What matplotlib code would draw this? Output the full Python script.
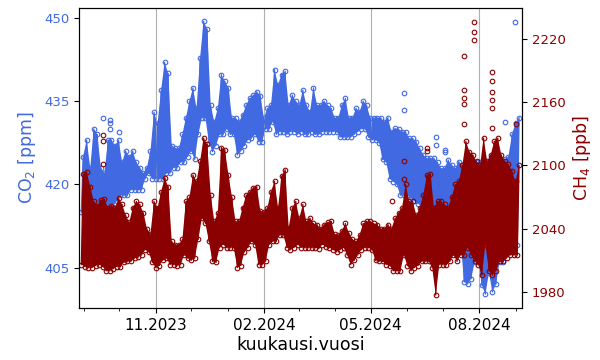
import matplotlib
matplotlib.use('Agg')
import matplotlib.pyplot as plt
import matplotlib.dates as mdates
import numpy as np
import pandas as pd

# ---- data (3-day steps from 2023-08-30; low / high of the daily spread) ----
start_date = '2023-08-30'
step_days = 3

co2_lo = [415, 414, 416, 417, 415, 416, 417, 415, 415, 416, 417, 418, 418, 418, 419, 419, 419, 419, 421, 422, 421,
          421, 421, 421, 422, 422, 423, 423, 424, 424, 425, 426, 424.5, 429, 432, 432, 427.5, 425.9, 427, 429, 429, 430, 429,
          429, 425.3, 426, 427, 428, 428.3, 429, 427.7, 427.7, 430, 430, 431.3, 429, 429.5, 429.5, 429, 429.5, 429.5, 429, 429.5, 429,
          429, 429.5, 429, 429, 429.5, 429.5, 429.5, 429.5, 429.5, 428.5, 428.5, 428.5, 428.5, 429, 429.5, 430, 430, 428.5, 428, 428, 427.5, 424.5,
          424, 421, 420.5, 420, 418, 418, 418, 417.5, 417, 416.5, 416, 414.5, 413.5, 413.5, 413, 412.5, 412, 412, 412, 411, 410,
          409.7, 402.4, 402, 403, 406, 406, 401.8, 400.2, 404, 400.6, 402, 406, 406, 408, 408, 408.5, 409]
co2_hi = [425, 428, 423, 430, 429, 423, 422, 428, 428, 427, 428, 424, 426, 425, 426, 424, 423, 422, 423, 426, 433,
          431, 437, 442, 440, 427, 426.5, 426.5, 429, 432, 435, 437.4, 433.7, 442.8, 449.4, 448, 434.3, 431.3, 433.7, 439.8, 438.6, 437.4, 432,
          432, 431.3, 432.5, 434.3, 435.5, 436.1, 436.7, 436, 432, 433.7, 434.3, 440.7, 438, 439.8, 440.4, 434.3, 436.1, 435, 434.3, 437, 434.3,
          433.1, 437.4, 434.3, 434.3, 435, 434.3, 433.7, 432, 432, 434.3, 435.5, 432, 432, 433.7, 433.1, 435, 434.3, 432, 432, 432, 432, 431.3,
          432, 429.5, 430.1, 430, 429.5, 429.5, 428.3, 428.3, 427.7, 426.5, 425.3, 424.7, 424.7, 424.7, 424, 422.9, 422.9, 424.4, 423.5, 422.9, 424.1,
          423.5, 424, 425, 424, 424, 424, 424, 424, 425, 425, 425, 424.5, 424.5, 425, 429, 431, 432]

ch4_lo = [2006, 2004, 2003, 2003, 2005, 2006, 2004, 2000, 2000, 2002, 2004, 2004, 2008, 2009, 2009, 2012, 2013, 2015, 2020, 2018, 2008,
          2003, 2005, 2010, 2012, 2006, 2006, 2005, 2006, 2015, 2012, 2010, 2012, 2030, 2050, 2045, 2028, 2009, 2008, 2022, 2025, 2022, 2022,
          2022, 2003, 2005, 2018, 2022, 2028, 2025, 2006, 2006, 2009, 2025, 2028, 2028, 2034, 2034, 2022, 2020, 2022, 2025, 2022, 2022,
          2022, 2022, 2022, 2021, 2025, 2023, 2022, 2020, 2018, 2020, 2022, 2015, 2006, 2010, 2015, 2020, 2022, 2022, 2020, 2010, 2009, 2009,
          2006, 2005, 2000, 2000, 2000, 2015, 2005, 2000, 2003, 2005, 2009, 2009, 2009, 2003, 1977, 2006, 2006, 2006, 2009, 2015, 2009,
          2015, 2015, 2022, 2015, 2009, 2006, 1996, 2025, 2000, 1996, 2000, 2009, 2009, 2012, 2015, 2015, 2015]
ch4_hi = [2092, 2094, 2080, 2066, 2062, 2067, 2068, 2060, 2062, 2060, 2069, 2063, 2053, 2046, 2060, 2066, 2063, 2055, 2040, 2035, 2066,
          2060, 2075, 2088, 2080, 2028, 2025, 2025, 2030, 2066, 2070, 2091, 2085, 2104, 2126, 2120, 2072, 2047, 2055, 2117, 2115, 2091, 2070,
          2047, 2047, 2060, 2072, 2075, 2079, 2080, 2057, 2056, 2060, 2075, 2085, 2060, 2090, 2096, 2041, 2060, 2066, 2050, 2063, 2047,
          2050, 2045, 2044, 2040, 2044, 2046, 2047, 2035, 2034, 2038, 2045, 2036, 2030, 2028, 2034, 2045, 2047, 2047, 2045, 2044, 2040, 2040,
          2044, 2040, 2050, 2055, 2060, 2082, 2066, 2066, 2053, 2060, 2072, 2091, 2092, 2060, 2066, 2066, 2063, 2060, 2070, 2082, 2085,
          2100, 2123, 2113, 2110, 2104, 2100, 2126, 2104, 2110, 2123, 2126, 2110, 2104, 2101, 2095, 2085, 2100]

co2_out_dates = ['2023-09-17', '2023-09-23', '2023-09-23', '2023-09-23', '2023-10-01', '2024-05-29', '2024-05-29',
                 '2024-06-25', '2024-06-25', '2024-07-03', '2024-07-03', '2024-08-23', '2024-08-31']
co2_out_vals = [432.0, 431.6, 431.0, 430.0, 429.5, 436.5, 433.4, 428.6, 427.1, 426.2, 425.9, 431.3, 449.3]

ch4_out_dates = ['2023-09-17', '2023-09-17', '2023-09-17', '2024-05-19', '2024-05-29', '2024-05-29', '2024-06-18', '2024-06-18',
                 '2024-07-19', '2024-07-19', '2024-07-19', '2024-07-19', '2024-07-19',
                 '2024-07-27', '2024-07-27', '2024-07-27',
                 '2024-08-12', '2024-08-12', '2024-08-12', '2024-08-12', '2024-08-12', '2024-08-12', '2024-09-01']
ch4_out_vals = [2129, 2123, 2101, 2066, 2104, 2087, 2117, 2114,
                2204, 2172, 2164, 2158, 2139,
                2236, 2227, 2219,
                2189, 2180, 2170, 2162, 2155, 2136, 2139]

x_range = ('2023-08-28', '2024-09-06')
co2_ticks = [405, 420, 435, 450]
ch4_ticks = [1980, 2040, 2100, 2160, 2220]

# ---- build interleaved low/high series ----
n = len(co2_lo)
t_lo = pd.Timestamp(start_date) + pd.to_timedelta(np.arange(n) * step_days, unit='D')
t_hi = t_lo + pd.Timedelta(hours=36)
t = np.empty(2 * n, dtype='datetime64[ns]')
t[0::2] = t_lo.values
t[1::2] = t_hi.values
n_lo = mdates.date2num(t_lo.to_pydatetime())
n_hi = mdates.date2num(t_hi.to_pydatetime())

def interleave(lo, hi):
    v = np.empty(2 * len(lo))
    v[0::2] = lo
    v[1::2] = hi
    return v

co2 = interleave(co2_lo, co2_hi)
ch4 = interleave(ch4_lo, ch4_hi)

C_CO2 = '#4169E1'
C_CH4 = '#8B0000'

fig = plt.figure(figsize=(6, 3.6), dpi=100)
ax = fig.add_axes([79 / 600, 1 - 308 / 360, (522 - 79) / 600, 300 / 360])
ax2 = ax.twinx()

mk = dict(marker='o', ms=3.3, mfc='none', mew=0.8)

def band(a, lo, hi, color):
    # region filled by the many overlapping measurement circles
    xs = np.concatenate([n_lo, n_hi[::-1]])
    ys = np.concatenate([np.asarray(lo, float), np.asarray(hi, float)[::-1]])
    a.fill(xs, ys, color=color, lw=0)

band(ax, co2_lo, co2_hi, C_CO2)
ax.plot(t, co2, color=C_CO2, lw=0.9, **mk)
ax.plot(pd.to_datetime(co2_out_dates), co2_out_vals, ls='none', color=C_CO2, **mk)

band(ax2, ch4_lo, ch4_hi, C_CH4)
ax2.plot(t, ch4, color=C_CH4, lw=0.9, **mk)
ax2.plot(pd.to_datetime(ch4_out_dates), ch4_out_vals, ls='none', color=C_CH4, **mk)

ax.set_xlim(pd.Timestamp(x_range[0]), pd.Timestamp(x_range[1]))
ax.set_ylim(397.7, 451.8)
ax2.set_ylim(1964.8, 2249.4)
ax.set_yticks(co2_ticks)
ax2.set_yticks(ch4_ticks)

ax.xaxis.set_major_locator(mdates.MonthLocator(bymonth=[2, 5, 8, 11]))
ax.xaxis.set_minor_locator(mdates.MonthLocator())
ax.xaxis.set_major_formatter(mdates.DateFormatter('%m.%Y'))
ax.grid(axis='x', which='major', color='#b0b0b0', lw=0.8)

ax.tick_params(axis='x', labelsize=11)
ax.tick_params(axis='y', labelsize=9.5, labelcolor=C_CO2)
ax2.tick_params(axis='y', labelsize=9.5, labelcolor=C_CH4)

ax.set_xlabel('kuukausi.vuosi', fontsize=12.5, labelpad=2)
ax.set_ylabel('CO$_2$ [ppm]', color=C_CO2, fontsize=12.5)
ax2.set_ylabel('CH$_4$ [ppb]', color=C_CH4, fontsize=12.5)

fig.savefig('out.png', dpi=100)
